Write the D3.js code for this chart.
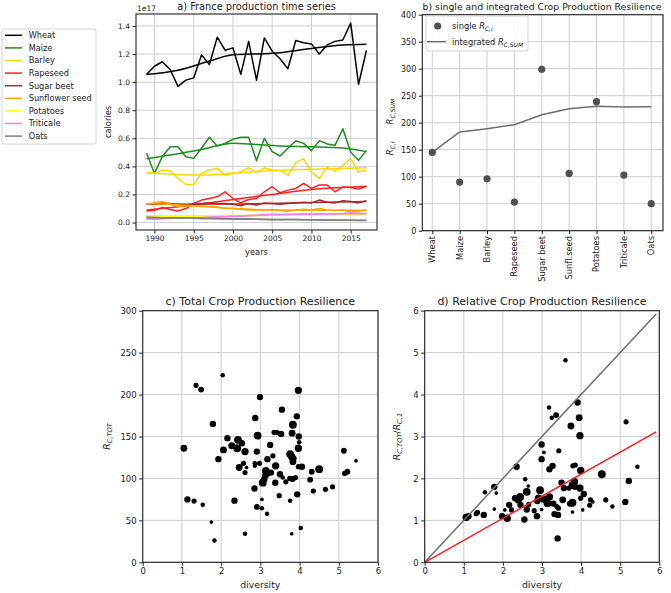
<!DOCTYPE html>
<html><head><meta charset="utf-8">
<script src="https://cdn.jsdelivr.net/npm/d3@7"></script>
<style>body{margin:0;background:#fff} text{font-family:"DejaVu Sans",sans-serif;fill:#222}</style>
</head><body><svg id="chart" width="671" height="593"></svg>
<script>
// ---------------- DATA ----------------
const years = [1989,1990,1991,1992,1993,1994,1995,1996,1997,1998,1999,2000,2001,2002,2003,2004,2005,2006,2007,2008,2009,2010,2011,2012,2013,2014,2015,2016,2017];
const crops = ["Wheat","Maize","Barley","Rapeseed","Sugar beet","Sunflower seed","Potatoes","Triticale","Oats"];
const cropColors = ["#000000","#1f8c1f","#ffd700","#ff2020","#a52a2a","#ffa500","#ffff00","#ee82ee","#808080"];
// production (x1e17 calories)
const wheat     = [1.055,1.113,1.145,1.09,0.97,1.014,1.03,1.194,1.125,1.32,1.227,1.244,1.055,1.29,1.014,1.315,1.22,1.166,1.095,1.296,1.28,1.272,1.2,1.265,1.29,1.30,1.42,0.984,1.225];
const maize     = [0.493,0.35,0.469,0.54,0.54,0.469,0.457,0.529,0.607,0.545,0.564,0.593,0.607,0.607,0.44,0.6,0.505,0.474,0.529,0.583,0.564,0.512,0.583,0.56,0.55,0.668,0.5,0.443,0.514];
const barley    = [0.355,0.35,0.374,0.367,0.314,0.271,0.271,0.35,0.374,0.386,0.338,0.35,0.362,0.39,0.357,0.39,0.373,0.373,0.337,0.427,0.455,0.36,0.313,0.396,0.365,0.408,0.455,0.36,0.372];
const rapeseed  = [0.083,0.088,0.107,0.093,0.083,0.1,0.136,0.16,0.171,0.183,0.219,0.171,0.14,0.164,0.171,0.219,0.255,0.212,0.231,0.243,0.279,0.243,0.267,0.267,0.219,0.254,0.25,0.238,0.259];
const sugarBeet = [0.13,0.135,0.14,0.135,0.13,0.125,0.13,0.135,0.14,0.135,0.135,0.13,0.12,0.135,0.125,0.14,0.135,0.13,0.135,0.14,0.145,0.14,0.16,0.145,0.14,0.155,0.15,0.14,0.155];
const sunflower = [0.13,0.14,0.15,0.13,0.115,0.12,0.12,0.115,0.115,0.11,0.1,0.1,0.095,0.09,0.09,0.09,0.09,0.085,0.08,0.09,0.095,0.09,0.1,0.09,0.085,0.09,0.075,0.08,0.09];
const potatoes  = [0.045,0.045,0.046,0.045,0.044,0.045,0.046,0.047,0.048,0.048,0.05,0.05,0.049,0.05,0.051,0.052,0.053,0.052,0.054,0.055,0.056,0.055,0.057,0.056,0.057,0.058,0.06,0.057,0.06];
const triticale = [0.025,0.026,0.028,0.03,0.03,0.032,0.035,0.035,0.038,0.04,0.042,0.045,0.045,0.05,0.05,0.058,0.06,0.058,0.058,0.06,0.062,0.06,0.063,0.06,0.062,0.065,0.07,0.062,0.065];
const oats      = [0.037,0.036,0.035,0.034,0.032,0.03,0.03,0.029,0.028,0.028,0.027,0.026,0.025,0.027,0.024,0.022,0.02,0.02,0.022,0.021,0.02,0.02,0.018,0.017,0.017,0.016,0.016,0.015,0.015];
// smoothed trends: [year, value]
const wheatTrend     = [[1989,1.055],[1993,1.085],[1997,1.15],[2000,1.195],[2005,1.205],[2010,1.24],[2014,1.265],[2017,1.27]];
const maizeTrend     = [[1989,0.455],[1993,0.49],[1996,0.52],[2000,0.565],[2003,0.555],[2006,0.545],[2010,0.54],[2014,0.53],[2017,0.505]];
const barleyTrend    = [[1989,0.355],[1996,0.338],[2000,0.352],[2005,0.37],[2010,0.38],[2017,0.39]];
const rapeseedTrend  = [[1989,0.09],[1995,0.125],[2000,0.165],[2005,0.2],[2010,0.235],[2014,0.25],[2017,0.258]];
const sugarBeetTrend = [[1989,0.13],[2000,0.132],[2010,0.142],[2017,0.15]];
const sunflowerTrend = [[1989,0.135],[1995,0.12],[2000,0.1],[2005,0.09],[2010,0.088],[2017,0.088]];
const potatoesTrend  = [[1989,0.045],[2000,0.049],[2010,0.055],[2017,0.059]];
const triticaleTrend = [[1989,0.025],[2000,0.043],[2005,0.056],[2010,0.06],[2017,0.065]];
const oatsTrend      = [[1989,0.036],[2000,0.026],[2010,0.02],[2017,0.016]];
const aYTicks = [0.0,0.2,0.4,0.6,0.8,1.0,1.2,1.4];
const aXTicks = [1990,1995,2000,2005,2010,2015];

// panel b
const bLabels = ["Wheat","Maize","Barley","Rapeseed","Sugar beet","Sunfl.seed","Potatoes","Triticale","Oats"];
const singleR = [145,90,96,53,299,106,239,103,50];
const integratedR = [145,182.8,189,196.3,214.8,226,230.4,229,229.6];
const bYTicks = [0,50,100,150,200,250,300,350,400];

// panel c: [diversity, R_C,TOT, weight]
const cPoints = [[1.36,211,2],[1.49,206,2.5],[2.04,223,1.5],[1.79,165,3],[2.99,197,3],[3.97,205,4],[2.87,172,3],[3.55,182,3],[3.93,174,3],[3.83,164,4.5],[3.81,154,3.5],[3.98,150,3],[2.93,151,4.5],[3.35,155,2],[3.42,155,2],[3.53,153,3],[2.16,148,3],[2.43,146,4.5],
[1.05,136,3.5],[2.06,134,3.5],[2.27,139,3.5],[2.41,136,4.5],[2.53,142,3],[2.61,132,4],[3.25,140,3],[2.91,132,3],[3.32,127,2],[3.76,129,4.5],[3.8,126,4],[3.97,136,4],[3.99,143,1.5],[3.83,120,3.5],[3.86,124,2],[1.93,123,3],[2.46,113,3.5],[2.57,118,2],[2.65,113,1],[2.61,107,2],[2.86,118,1.5],[2.86,115,1.5],[2.98,118,2],[3.18,123,3],[3.39,115,4],[3.14,109,4.5],[3.16,106,4],[3.27,107,3],[3.06,95,4.5],[3.1,99,3],[3.12,103,3],[3.5,105,3],[3.38,95,3],[3.65,96,2],[3.57,101,1.5],[3.75,100,2],[3.82,99.5,3],[3.9,101,2],[3.97,114,2],[4.06,114,3],[4.27,98.5,2.5],[4.31,108,2.5],[4.5,111,4.5],[4.35,85,2],[4.66,87,2],[4.84,90,2],[3.94,81,3],[3.48,79.5,2],[2.85,88,3],[1.14,75,3],[1.31,73,2],[1.53,68.5,1.5],[2.34,73.5,3],[2.91,66,2.5],[3.04,64.5,1.5],[3.04,75,1],[3.17,58,1.5],[3.76,73.5,1.5],[1.75,48,1],[1.83,26,1.5],[2.61,34,1.5],[3.8,34,1],[4.03,41,1.5],[5.13,133,2.5],[5.15,106,2],[5.22,108,2.5],[5.44,121,1]];
// panel d: [diversity, R_C,TOT/R_C,1, weight]
const dPoints = [[3.6,4.82,1.5],[3.91,3.81,3],[3.18,3.69,1.5],[3.25,3.45,1.5],[3.36,3.51,2.5],[3.95,3.45,3.5],[3.74,3.25,3.5],[5.15,3.35,2],[3.97,3.02,4],
[2.99,2.81,3],[3.05,2.62,1],[3.43,2.66,2],[2.99,2.46,3],[2.35,2.28,3],[3.27,2.3,3],[3.19,2.22,3],[3.79,2.3,2],[3.85,2.32,2],[3.99,2.19,4],[5.44,2.28,1.5],[4.53,2.1,4.5],[5.22,1.94,3],[1.78,1.8,3],[1.54,1.67,1.5],[1.83,1.65,1],[2.57,1.98,1.5],[2.65,1.82,1],[2.61,1.68,4.5],[2.95,1.72,4.5],[3.5,1.9,3],[3.56,1.77,3],[3.69,1.77,2],[3.78,1.84,4.5],[3.83,1.92,4],[3.85,1.8,3],[3.97,1.77,4],[4.07,1.63,3],[3.99,1.53,2],[3.78,1.42,4.5],[3.72,1.4,3],[3.53,1.49,3.5],[3.19,1.56,4],[3.1,1.5,4.5],[3.14,1.41,4.5],[2.91,1.53,4],[2.88,1.46,3],[3.03,1.5,3],[2.44,1.56,4.5],[2.39,1.49,4],[2.31,1.53,3],[2.16,1.37,3],[2.22,1.25,2],[2.45,1.37,3],[2.66,1.38,2],[2.61,1.26,3],[2.8,1.23,2],[2.99,1.26,1],[3.29,1.4,3],[3.38,1.33,2],[3.42,1.29,2],[3.32,1.15,3],[3.41,1.13,3],[3.78,1.2,1],[4.04,1.25,1],[4.24,1.49,2],[4.3,1.44,1],[4.22,1.36,2],[4.63,1.49,2],[4.8,1.33,1.5],[5.13,1.44,3],[2.05,1.25,1],[2.11,1.05,4],[1.98,1.1,3],[1.51,1.13,3],[1.35,1.19,2],[1.32,1.16,2],[1.12,1.1,3],[1.06,1.07,4],[1.78,1.27,1],[2.55,1.02,3],[2.87,1.1,3],[3.4,0.57,3]];
const identityLine = [[0,0],[5.92,5.92]];
const fitLine = [[0,0],[5.92,3.11]];
const cYTicks = [0,50,100,150,200,250,300];
const dYTicks = [0,1,2,3,4,5,6];
const divTicks = [0,1,2,3,4,5,6];

// ---------------- DRAWING ----------------
const svg = d3.select("#chart");
const GRID = "#cfcfcf", SPINE = "#222";
const series = [wheat,maize,barley,rapeseed,sugarBeet,sunflower,potatoes,triticale,oats];
const trends = [wheatTrend,maizeTrend,barleyTrend,rapeseedTrend,sugarBeetTrend,sunflowerTrend,potatoesTrend,triticaleTrend,oatsTrend];

function frame(g, x, y, xt, yt, fs, xfmt, yfmt, gridX) {
  const [x0,x1] = x.range(), [y0,y1] = y.range();
  if (gridX !== false) g.append("g").selectAll("line").data(xt).join("line")
    .attr("x1",d=>x(d)).attr("x2",d=>x(d)).attr("y1",y0).attr("y2",y1).attr("stroke",GRID).attr("stroke-width",1);
  g.append("g").selectAll("line").data(yt).join("line")
    .attr("x1",x0).attr("x2",x1).attr("y1",d=>y(d)).attr("y2",d=>y(d)).attr("stroke",GRID).attr("stroke-width",1);
}
function axes(g, x, y, xt, yt, fs, xfmt, yfmt, noXLabels) {
  const [x0,x1] = x.range(), [y0,y1] = y.range();
  const ax = g.append("g").attr("transform",`translate(0,${y0})`)
    .call(d3.axisBottom(x).tickValues(xt).tickFormat(noXLabels ? "" : xfmt).tickSize(3.5).tickSizeOuter(0).tickPadding(2.5));
  const ay = g.append("g").attr("transform",`translate(${x0},0)`)
    .call(d3.axisLeft(y).tickValues(yt).tickFormat(yfmt).tickSize(3.5).tickSizeOuter(0).tickPadding(2.5));
  [ax,ay].forEach(a=>{a.select(".domain").remove(); a.selectAll("line").attr("stroke",SPINE);
    a.selectAll("text").style("font-size",fs+"px").attr("fill","#222");});
  g.append("rect").attr("x",x0).attr("y",y1).attr("width",x1-x0).attr("height",y0-y1)
    .attr("fill","none").attr("stroke",SPINE).attr("stroke-width",1.1);
}
function mathLabel(t, parts, fs) {
  parts.forEach(p=>{
    if (p.sub !== undefined) {
      t.append("tspan").attr("font-style","italic").text(p.t);
      t.append("tspan").attr("font-style",p.subItalic===false?"normal":"italic").attr("baseline-shift","-25%").style("font-size",(fs*0.72)+"px").text(p.sub);
      t.append("tspan").attr("baseline-shift","0%").text("");
    } else t.append("tspan").text(p.t);
  });
}

// ---- Panel a ----
{
  const x = d3.scaleLinear().domain([1987.65,2018.35]).range([136,377]);
  const y = d3.scaleLinear().domain([-0.053,1.485]).range([230,14]);
  const g = svg.append("g");
  frame(g,x,y,aXTicks,aYTicks);
  const line = d3.line().x(d=>x(d[0])).y(d=>y(d[1]));
  series.forEach((s,i)=>{
    g.append("path").datum(years.map((yr,j)=>[yr,s[j]])).attr("d",line).attr("fill","none")
      .attr("stroke",cropColors[i]).attr("stroke-width",1.5).attr("stroke-linejoin","round");
    g.append("path").datum(trends[i]).attr("d",line.curve(d3.curveMonotoneX)).attr("fill","none")
      .attr("stroke",cropColors[i]).attr("stroke-width",1.5);
    line.curve(d3.curveLinear);
  });
  axes(g,x,y,aXTicks,aYTicks,7.5,d3.format("d"),d3.format(".1f"));
  g.append("text").attr("x",137).attr("y",11).style("font-size","7.5px").text("1e17");
  g.append("text").attr("x",256.5).attr("y",9.5).attr("text-anchor","middle").style("font-size","9.8px").text("a) France production time series");
  g.append("text").attr("x",256.5).attr("y",255).attr("text-anchor","middle").style("font-size","8.3px").text("years");
  g.append("text").attr("transform","translate(111,122) rotate(-90)").attr("text-anchor","middle").style("font-size","8.3px").text("calories");
  // legend
  const lg = svg.append("g");
  lg.append("rect").attr("x",2).attr("y",29).attr("width",94).attr("height",115).attr("rx",2)
    .attr("fill","#fff").attr("stroke","#d5d5d5");
  crops.forEach((c,i)=>{
    const yy = 35.3 + i*12.6;
    lg.append("line").attr("x1",5).attr("x2",22).attr("y1",yy).attr("y2",yy).attr("stroke",cropColors[i]).attr("stroke-width",1.5);
    lg.append("text").attr("x",28.7).attr("y",yy).attr("dy","0.35em").style("font-size","8.2px").text(c);
  });
}

// ---- Panel b ----
{
  const x = d3.scaleLinear().domain([-0.365,8.43]).range([422.3,663]);
  const y = d3.scaleLinear().domain([0,400]).range([230.7,14.7]);
  const idx = bLabels.map((d,i)=>i);
  const g = svg.append("g");
  frame(g,x,y,idx,bYTicks);
  g.append("path").datum(integratedR).attr("d",d3.line().x((d,i)=>x(i)).y(d=>y(d)))
    .attr("fill","none").attr("stroke","#6e6e6e").attr("stroke-width",1.5);
  g.selectAll("circle").data(singleR).join("circle").attr("cx",(d,i)=>x(i)).attr("cy",d=>y(d)).attr("r",3.6).attr("fill","#505050");
  axes(g,x,y,idx,bYTicks,8,null,d3.format("d"),true);
  g.append("g").selectAll("text").data(bLabels).join("text")
    .attr("transform",(d,i)=>`translate(${x(i)},236) rotate(-90)`).attr("text-anchor","end").attr("dy","0.35em")
    .style("font-size","8.3px").text(d=>d);
  g.append("text").attr("x",542).attr("y",9.5).attr("text-anchor","middle").style("font-size","9.3px").text("b) single and integrated Crop Production Resilience");
  const yl = g.append("text").attr("transform","translate(393,127) rotate(-90)").attr("text-anchor","middle").style("font-size","8.5px");
  mathLabel(yl,[{t:"R",sub:"C,i"},{t:"\u2003\u2003"},{t:"R",sub:"C,SUM"}],8.5);
  // legend
  g.append("rect").attr("x",426).attr("y",16).attr("width",102).attr("height",35).attr("rx",2).attr("fill","#fff").attr("fill-opacity",0.85).attr("stroke","#d5d5d5");
  g.append("circle").attr("cx",437.7).attr("cy",26).attr("r",3.6).attr("fill","#505050");
  g.append("line").attr("x1",427).attr("x2",446).attr("y1",41.7).attr("y2",41.7).attr("stroke","#6e6e6e").attr("stroke-width",1.5);
  const t1 = g.append("text").attr("x",452).attr("y",26).attr("dy","0.35em").style("font-size","8.3px");
  mathLabel(t1,[{t:"single "},{t:"R",sub:"C,i"}],8.3);
  const t2 = g.append("text").attr("x",452).attr("y",41.7).attr("dy","0.35em").style("font-size","8.3px");
  mathLabel(t2,[{t:"integrated "},{t:"R",sub:"C,SUM"}],8.3);
}

// ---- Panels c & d ----
const rScale = d3.scaleSqrt().domain([0,4.5]).range([0,3.9]);
function scatterPanel(x, y, pts, yt, title, cx, ylabParts, ylx) {
  const g = svg.append("g");
  frame(g,x,y,divTicks,yt);
  g.append("g").selectAll("circle").data(pts).join("circle")
    .attr("cx",d=>x(d[0])).attr("cy",d=>y(d[1])).attr("r",d=>rScale(d[2])).attr("fill","#000");
  g.append("text").attr("x",cx).attr("y",305).attr("text-anchor","middle").style("font-size","11px").text(title);
  g.append("text").attr("x",cx).attr("y",588).attr("text-anchor","middle").style("font-size","9.3px").text("diversity");
  const yl = g.append("text").attr("transform",`translate(${ylx},436.5) rotate(-90)`).attr("text-anchor","middle").style("font-size","9.3px");
  mathLabel(yl,ylabParts,9.3);
  return g;
}
{
  const x = d3.scaleLinear().domain([0,6]).range([142.7,378]);
  const y = d3.scaleLinear().domain([0,300]).range([562.3,310.7]);
  const g = scatterPanel(x,y,cPoints,cYTicks,"c) Total Crop Production Resilience",260.3,[{t:"R",sub:"C,TOT"}],110);
  axes(g,x,y,divTicks,cYTicks,8.5,d3.format("d"),d3.format("d"));
}
{
  const x = d3.scaleLinear().domain([0,6]).range([424.7,659.3]);
  const y = d3.scaleLinear().domain([0,6]).range([562.3,310.7]);
  const g = scatterPanel(x,y,dPoints,dYTicks,"d) Relative Crop Production Resilience",542,[{t:"R",sub:"C,TOT"},{t:"/"},{t:"R",sub:"C,1"}],400);
  const ln = d3.line().x(d=>x(d[0])).y(d=>y(d[1]));
  g.append("path").datum(identityLine).attr("d",ln).attr("stroke","#6e6e6e").attr("stroke-width",1.5).attr("fill","none");
  g.append("path").datum(fitLine).attr("d",ln).attr("stroke","#ff1a1a").attr("stroke-width",1.5).attr("fill","none");
  axes(g,x,y,divTicks,dYTicks,8.5,d3.format("d"),d3.format("d"));
}
</script></body></html>
